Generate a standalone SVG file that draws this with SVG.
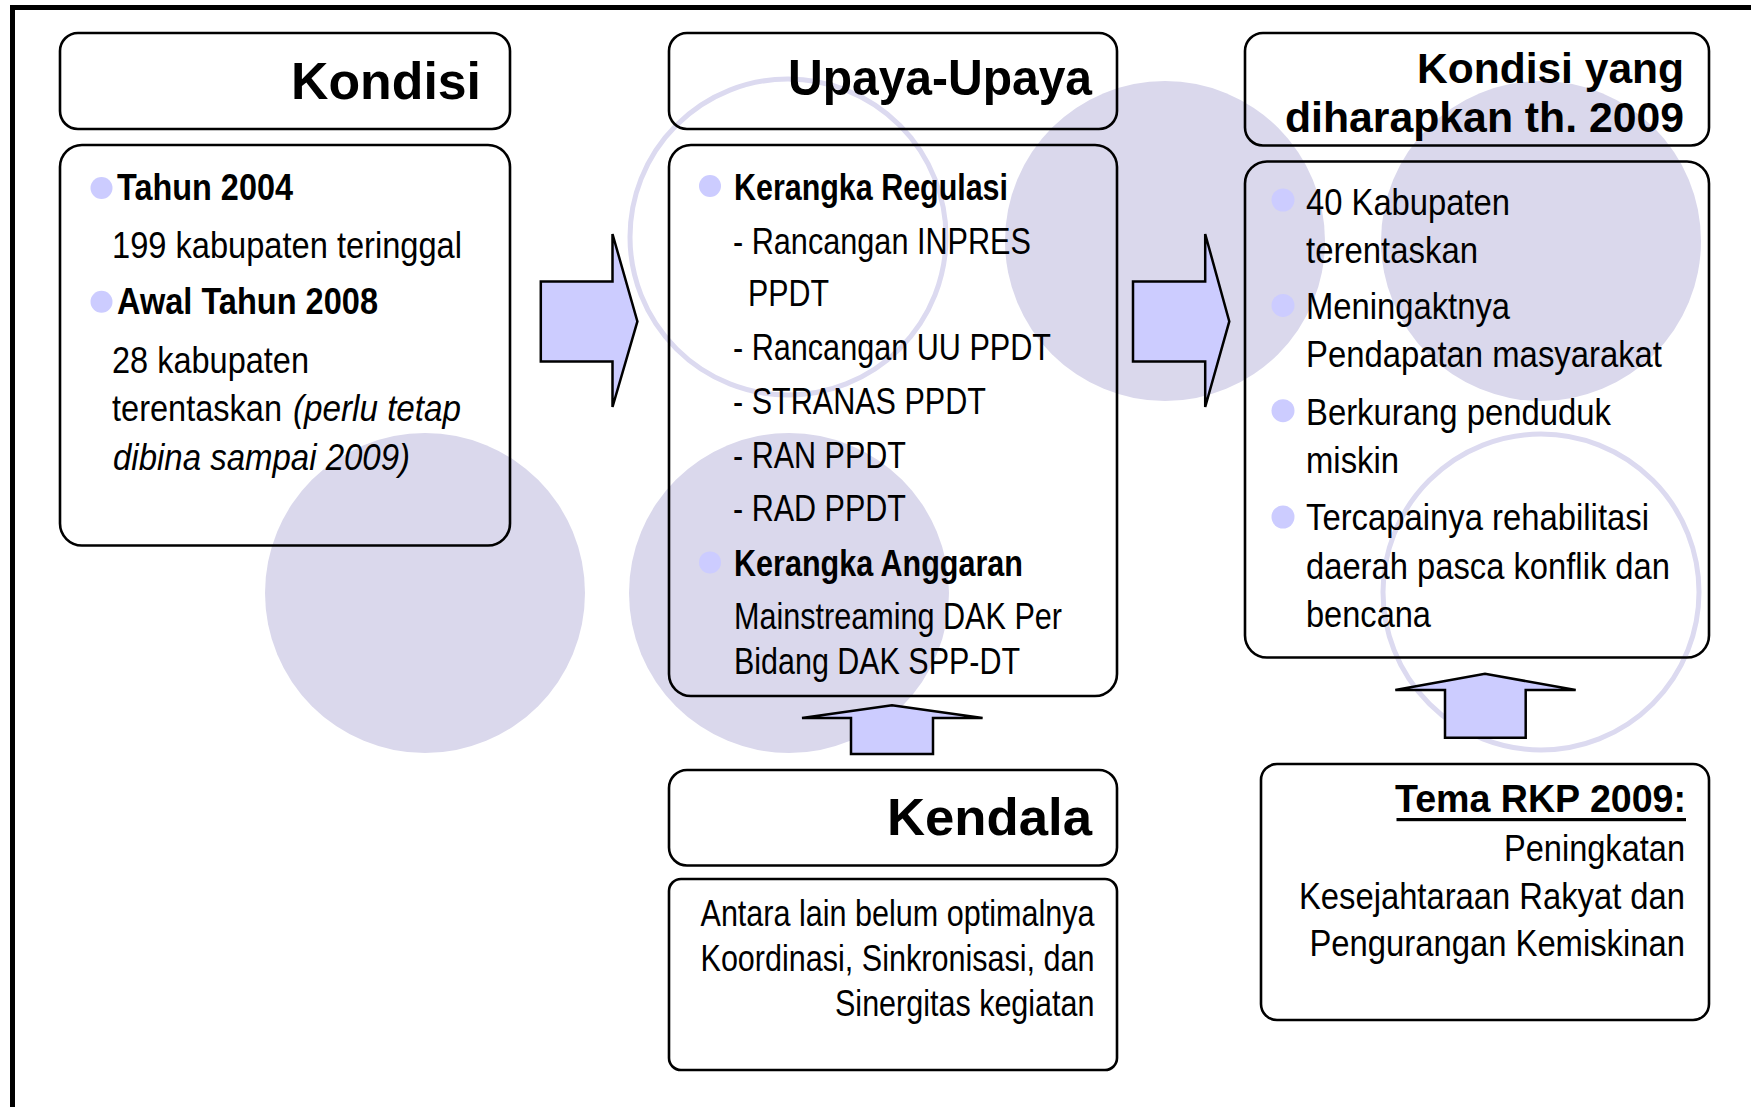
<svg xmlns="http://www.w3.org/2000/svg" width="1751" height="1107" viewBox="0 0 1751 1107">
<style>
.box{fill:none;stroke:#000;stroke-width:2.6}
.disc{fill:#DAD8EC}
.ring{fill:none;stroke:#DCDAF0;stroke-width:5}
.arrow{fill:#CCCCFF;stroke:#000;stroke-width:2.5;stroke-linejoin:miter}
.bul{fill:#CCCCFF}
.hd{font-family:"Liberation Sans",Arial,sans-serif;font-weight:bold;fill:#000}
.tx{font-family:"Liberation Sans Narrow","Liberation Sans",Arial,sans-serif;fill:#000;font-size:36px}
.b{font-weight:bold}
.it{font-style:italic}
</style>
<rect x="0" y="0" width="1751" height="1107" fill="#fff"/>
<rect x="12.5" y="7.5" width="1800" height="1200" fill="none" stroke="#000" stroke-width="5"/>
<g id="background-circles">
<circle class="disc" cx="425" cy="593" r="160"/>
<circle class="ring" cx="788" cy="237" r="158"/>
<circle class="disc" cx="1165" cy="241" r="160"/>
<circle class="disc" cx="789" cy="593" r="160"/>
<circle class="disc" cx="1541" cy="241" r="160"/>
<circle class="ring" cx="1541" cy="592" r="158"/>
</g>
<g id="connectors">
<polygon class="arrow" points="540.8,281.4 612.5,281.4 612.5,234 637.4,321.4 612.5,407 612.5,361.4 540.8,361.4"/>
<polygon class="arrow" points="1133,281.4 1205.2,281.4 1205.2,234 1229.3,321.4 1205.2,407 1205.2,361.4 1133,361.4"/>
<polygon class="arrow" points="851,754 851,718 802,718 892,705.3 982.6,718 933,718 933,754"/>
<polygon class="arrow" points="1445,737.8 1445,690 1395.3,690 1485,673.8 1575.7,690 1525.7,690 1525.7,737.8"/>
</g>
<g id="kondisi-header">
<rect class="box" x="60" y="33" width="450" height="96" rx="18"/>
<text class="hd" x="291" y="99.3" font-size="52" textLength="190" lengthAdjust="spacingAndGlyphs">Kondisi</text>
</g>
<g id="kondisi-body">
<rect class="box" x="60" y="145" width="450" height="400.5" rx="22"/>
<circle class="bul" cx="101.5" cy="188" r="11"/>
<circle class="bul" cx="101.5" cy="301.8" r="11"/>
<text class="tx b" x="117" y="199.5" textLength="176" lengthAdjust="spacingAndGlyphs">Tahun 2004</text>
<text class="tx" x="112" y="257.5" textLength="350" lengthAdjust="spacingAndGlyphs">199 kabupaten teringgal</text>
<text class="tx b" x="117" y="314.3" textLength="261" lengthAdjust="spacingAndGlyphs">Awal Tahun 2008</text>
<text class="tx" x="112" y="373" textLength="197" lengthAdjust="spacingAndGlyphs">28 kabupaten</text>
<text class="tx" x="112" y="421.4"><tspan textLength="170" lengthAdjust="spacingAndGlyphs">terentaskan</tspan><tspan class="it" x="293" textLength="168" lengthAdjust="spacingAndGlyphs">(perlu tetap</tspan></text>
<text class="tx it" x="113" y="469.6" textLength="297" lengthAdjust="spacingAndGlyphs">dibina sampai 2009)</text>
</g>
<g id="upaya-header">
<rect class="box" x="669" y="33" width="448" height="96" rx="18"/>
<text class="hd" x="788" y="94.6" font-size="50" textLength="304" lengthAdjust="spacingAndGlyphs">Upaya-Upaya</text>
</g>
<g id="upaya-body">
<rect class="box" x="669" y="145" width="448" height="551" rx="22"/>
<circle class="bul" cx="710" cy="186" r="11"/>
<circle class="bul" cx="710" cy="562.4" r="11"/>
<text class="tx b" x="734" y="199.5" textLength="274" lengthAdjust="spacingAndGlyphs">Kerangka Regulasi</text>
<text class="tx" x="733" y="253.5" textLength="298" lengthAdjust="spacingAndGlyphs">- Rancangan INPRES</text>
<text class="tx" x="748" y="306.4" textLength="81" lengthAdjust="spacingAndGlyphs">PPDT</text>
<text class="tx" x="733" y="359.5" textLength="318" lengthAdjust="spacingAndGlyphs">- Rancangan UU PPDT</text>
<text class="tx" x="733" y="414.3" textLength="253" lengthAdjust="spacingAndGlyphs">- STRANAS PPDT</text>
<text class="tx" x="733" y="467.9" textLength="173" lengthAdjust="spacingAndGlyphs">- RAN PPDT</text>
<text class="tx" x="733" y="521.4" textLength="173" lengthAdjust="spacingAndGlyphs">- RAD PPDT</text>
<text class="tx b" x="734" y="576.2" textLength="289" lengthAdjust="spacingAndGlyphs">Kerangka Anggaran</text>
<text class="tx" x="734" y="628.6" textLength="328" lengthAdjust="spacingAndGlyphs">Mainstreaming DAK Per</text>
<text class="tx" x="734" y="673.8" textLength="286" lengthAdjust="spacingAndGlyphs">Bidang DAK SPP-DT</text>
</g>
<g id="harapan-header">
<rect class="box" x="1245" y="33" width="464" height="112.5" rx="18"/>
<text class="hd" x="1417" y="82.5" font-size="42" textLength="267" lengthAdjust="spacingAndGlyphs">Kondisi yang</text>
<text class="hd" x="1285" y="131.5" font-size="42" textLength="399" lengthAdjust="spacingAndGlyphs">diharapkan th. 2009</text>
</g>
<g id="harapan-body">
<rect class="box" x="1245" y="161.5" width="464" height="496" rx="22"/>
<circle class="bul" cx="1283" cy="200" r="11.5"/>
<circle class="bul" cx="1283" cy="305.4" r="11.5"/>
<circle class="bul" cx="1283" cy="410.7" r="11.5"/>
<circle class="bul" cx="1283" cy="517" r="11.5"/>
<text class="tx" x="1306" y="214.5" textLength="204" lengthAdjust="spacingAndGlyphs">40 Kabupaten</text>
<text class="tx" x="1306" y="262.5" textLength="172" lengthAdjust="spacingAndGlyphs">terentaskan</text>
<text class="tx" x="1306" y="319" textLength="204" lengthAdjust="spacingAndGlyphs">Meningaktnya</text>
<text class="tx" x="1306" y="367" textLength="356" lengthAdjust="spacingAndGlyphs">Pendapatan masyarakat</text>
<text class="tx" x="1306" y="425" textLength="305" lengthAdjust="spacingAndGlyphs">Berkurang penduduk</text>
<text class="tx" x="1306" y="473" textLength="93" lengthAdjust="spacingAndGlyphs">miskin</text>
<text class="tx" x="1306" y="530.4" textLength="343" lengthAdjust="spacingAndGlyphs">Tercapainya rehabilitasi</text>
<text class="tx" x="1306" y="579" textLength="364" lengthAdjust="spacingAndGlyphs">daerah pasca konflik dan</text>
<text class="tx" x="1306" y="626.8" textLength="125" lengthAdjust="spacingAndGlyphs">bencana</text>
</g>
<g id="kendala-header">
<rect class="box" x="669" y="770" width="448" height="95.5" rx="18"/>
<text class="hd" x="887" y="834.8" font-size="52" textLength="205" lengthAdjust="spacingAndGlyphs">Kendala</text>
</g>
<g id="kendala-body">
<rect class="box" x="669" y="879" width="448" height="191" rx="12"/>
<text class="tx" x="700.5" y="926.3" font-size="34" textLength="394" lengthAdjust="spacingAndGlyphs">Antara lain belum optimalnya</text>
<text class="tx" x="700.5" y="971" font-size="34" textLength="394" lengthAdjust="spacingAndGlyphs">Koordinasi, Sinkronisasi, dan</text>
<text class="tx" x="835" y="1015.6" font-size="34" textLength="259.5" lengthAdjust="spacingAndGlyphs">Sinergitas kegiatan</text>
</g>
<g id="tema-rkp">
<rect class="box" x="1261" y="764" width="448" height="256" rx="16"/>
<text class="hd" x="1395" y="812" font-size="38" textLength="291" lengthAdjust="spacingAndGlyphs">Tema RKP 2009:</text>
<rect x="1396.5" y="818" width="289.5" height="3.2" fill="#000"/>
<text class="tx" x="1504" y="860.5" textLength="181" lengthAdjust="spacingAndGlyphs">Peningkatan</text>
<text class="tx" x="1299" y="909" textLength="386" lengthAdjust="spacingAndGlyphs">Kesejahtaraan Rakyat dan</text>
<text class="tx" x="1309.5" y="956" textLength="375.5" lengthAdjust="spacingAndGlyphs">Pengurangan Kemiskinan</text>
</g>
</svg>
